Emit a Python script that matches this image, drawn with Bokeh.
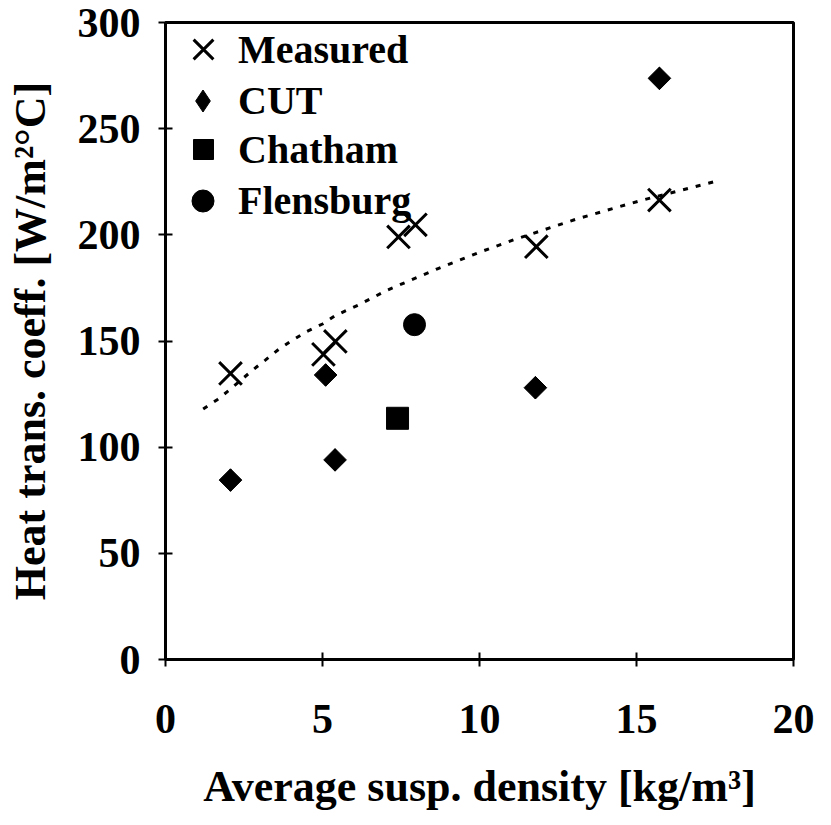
from bokeh.plotting import figure
from bokeh.models import Range1d, FixedTicker, Legend, LegendItem
from bokeh.embed import file_html
from bokeh.resources import INLINE
import math

# ---- data ----
measured_x = [2.07, 5.03, 5.41, 7.42, 7.96, 11.81, 15.73]
measured_y = [134.7, 143.7, 149.8, 199.0, 204.7, 194.4, 216.4]

cut_x = [2.07, 5.10, 5.40, 11.78, 15.73]
cut_y = [84.5, 134.0, 94.0, 128.0, 273.7]

chatham_x = [7.39]
chatham_y = [113.6]

flensburg_x = [7.93]
flensburg_y = [157.7]

trend_x = [1.2, 1.66, 2.04, 2.8, 3.18, 3.6, 4.08, 4.5, 5.0, 5.41, 6.15, 7.07, 8.66, 10.13, 11.08, 13.1, 15.1, 17.58]
trend_y = [118.0, 122.5, 127.0, 136.6, 141.0, 146.0, 150.7, 154.5, 158.0, 162.0, 167.0, 174.0, 184.0, 192.5, 197.6, 207.5, 216.0, 225.4]

x_ticks = [0, 5, 10, 15, 20]
y_ticks = [0, 50, 100, 150, 200, 250, 300]

legend_labels = ["Measured", "CUT", "Chatham", "Flensburg"]

FONT = "Liberation Serif"

p = figure(width=823, height=822, output_backend="svg", toolbar_location=None,
           x_range=Range1d(0, 20), y_range=Range1d(0, 300),
           min_border_left=165, min_border_right=30, min_border_top=22, min_border_bottom=163)

p.grid.visible = False
p.outline_line_color = "black"
p.outline_line_width = 3

for ax in (p.xaxis[0], p.yaxis[0]):
    ax.axis_line_width = 3
    ax.axis_line_color = "black"
    ax.major_tick_in = 7
    ax.major_tick_out = 7
    ax.major_tick_line_width = 2
    ax.minor_tick_line_color = None
    ax.major_label_text_font = FONT
    ax.major_label_text_font_style = "bold"
    ax.major_label_text_font_size = "42px"
    ax.major_label_text_color = "black"
    ax.axis_label_text_font = FONT
    ax.axis_label_text_font_style = "bold"
    ax.axis_label_text_font_size = "44px"
    ax.axis_label_text_color = "black"

p.xaxis.ticker = FixedTicker(ticks=x_ticks)
p.yaxis.ticker = FixedTicker(ticks=y_ticks)
p.xaxis.axis_label = "Average susp. density [kg/m³]"
p.yaxis.axis_label = "Heat trans. coeff. [W/m²°C]"
p.xaxis.major_label_standoff = 38
p.xaxis.axis_label_standoff = 26
p.yaxis.major_label_standoff = 18
p.yaxis.axis_label_standoff = 20

p.line(trend_x, trend_y, line_color="black", line_width=3, line_dash="5 8")

r_meas = p.scatter(measured_x, measured_y, marker="x", size=32, line_color="black", line_width=3)
# diamond-shaped CUT symbol (used for the legend key), covered by the rotated squares below
r_cut_key = p.scatter(cut_x, cut_y, marker="diamond", size=22, fill_color="black", line_color="black")
r_cut = p.scatter(cut_x, cut_y, marker="square", angle=math.pi / 4, size=16,
                  fill_color="black", line_color="black")
r_chat = p.scatter(chatham_x, chatham_y, marker="square", size=22, fill_color="black", line_color="black")
r_flen = p.scatter(flensburg_x, flensburg_y, marker="circle", size=22, fill_color="black", line_color="black")

# (renderer, glyph box, location, standoff)
legend_specs = [
    (r_meas, 70, (3, 575), 0),
    (r_cut_key, 55, (10, 531), 8),
    (r_chat, 50, (13, 485), 10),
    (r_flen, 55, (10, 431), 8),
]

for label, (rend, g, loc, so) in zip(legend_labels, legend_specs):
    lg = Legend(items=[LegendItem(label=label, renderers=[rend])], location=loc)
    lg.glyph_width = g
    lg.glyph_height = g
    lg.spacing = 0
    lg.padding = 0
    lg.margin = 0
    lg.label_standoff = so
    lg.label_text_font = FONT
    lg.label_text_font_style = "bold"
    lg.label_text_font_size = "40px"
    lg.label_text_color = "black"
    lg.background_fill_alpha = 0
    lg.border_line_alpha = 0
    p.add_layout(lg)

open("out.html", "w").write(file_html(p, INLINE))
